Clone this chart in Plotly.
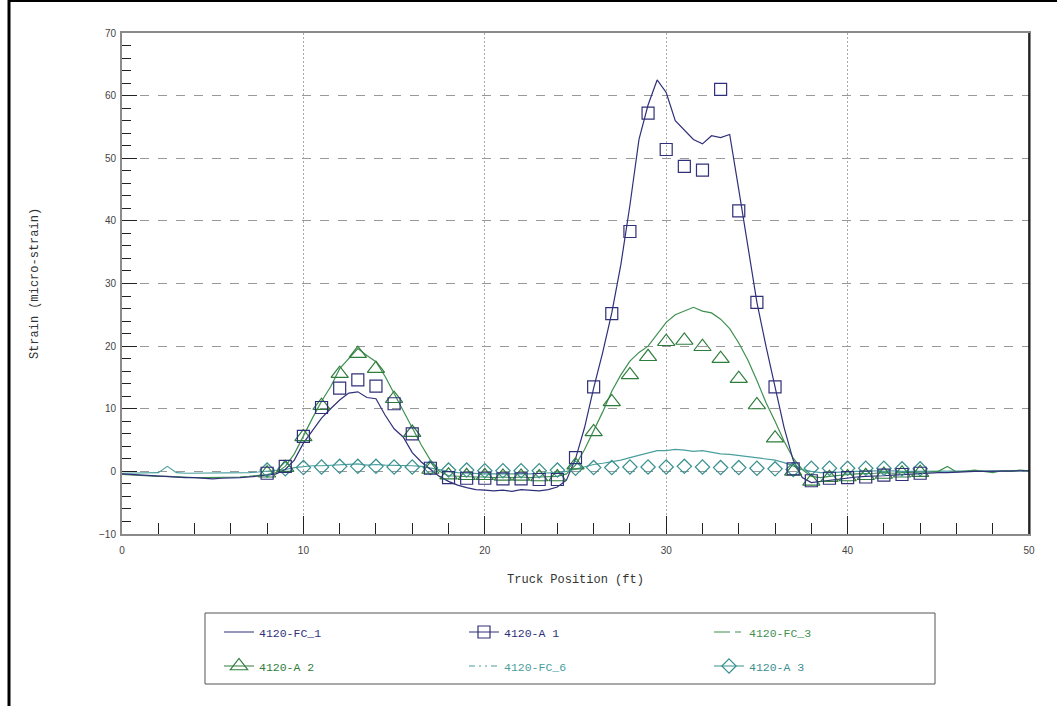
import plotly.graph_objects as go

# ---------------- data ----------------
pos_line = [0.0, 0.5, 1.0, 1.5, 2.0, 2.5, 3.0, 3.5, 4.0, 4.5,
            5.0, 5.5, 6.0, 6.5, 7.0, 7.5, 8.0, 8.5, 9.0, 9.5,
            10.0, 10.5, 11.0, 11.5, 12.0, 12.5, 13.0, 13.5, 14.0, 14.5,
            15.0, 15.5, 16.0, 16.5, 17.0, 17.5, 18.0, 18.5, 19.0, 19.5,
            20.0, 20.5, 21.0, 21.5, 22.0, 22.5, 23.0, 23.5, 24.0, 24.5,
            25.0, 25.5, 26.0, 26.5, 27.0, 27.5, 28.0, 28.5, 29.0, 29.5,
            30.0, 30.5, 31.0, 31.5, 32.0, 32.5, 33.0, 33.5, 34.0, 34.5,
            35.0, 35.5, 36.0, 36.5, 37.0, 37.5, 38.0, 38.5, 39.0, 39.5,
            40.0, 40.5, 41.0, 41.5, 42.0, 42.5, 43.0, 43.5, 44.0, 44.5,
            45.0, 45.5, 46.0, 46.5, 47.0, 47.5, 48.0, 48.5, 49.0, 49.5,
            50.0]

fc_1 = [-0.4, -0.5, -0.6, -0.7, -0.8, -0.8, -0.9, -1.0, -1.0, -1.1,
        -1.2, -1.1, -1.1, -1.0, -0.9, -0.8, -0.6, -0.4, 0.3, 1.8,
        4.5, 6.5, 8.5, 10.0, 11.4, 12.5, 12.7, 11.8, 11.6, 9.0,
        6.8, 5.5, 3.0, 1.5, 0.3, -0.8, -1.6, -2.2, -2.6, -2.9,
        -3.0, -3.1, -3.0, -3.2, -2.9, -3.0, -3.1, -2.9, -2.5, -1.4,
        2.0, 7.0, 13.3, 19.0, 25.3, 33.0, 42.5, 53.0, 58.5, 62.5,
        60.5, 56.0, 54.5, 53.0, 52.3, 53.6, 53.3, 53.8, 45.0, 36.0,
        27.0, 20.0, 13.5, 7.0, 1.8, -1.0, -1.8, -1.6, -1.5, -1.2,
        -1.0, -0.9, -0.8, -0.8, -0.7, -0.6, -0.5, -0.4, -0.4, -0.3,
        -0.2, -0.2, -0.1, -0.1, 0.0, 0.0, 0.0, 0.1, 0.0, 0.1,
        0.1]

fc_3 = [-0.5, -0.6, -0.7, -0.7, -0.8, -0.8, -0.9, -0.9, -1.0, -1.0,
        -1.0, -1.0, -0.9, -0.9, -0.8, -0.7, -0.5, -0.2, 0.8, 2.8,
        5.7, 8.5, 11.2, 13.5, 16.4, 18.0, 19.6, 18.5, 17.5, 15.2,
        12.5, 9.8, 6.9, 4.2, 1.8, 0.0, -0.7, -0.8, -0.9, -0.9,
        -0.9, -1.0, -0.9, -1.0, -0.9, -1.0, -0.9, -0.9, -0.8, -0.4,
        1.0, 3.5, 6.5, 9.5, 12.8, 15.4, 17.6, 19.0, 20.0, 22.0,
        23.8, 25.0, 25.6, 26.2, 25.6, 25.3, 24.3, 22.8, 20.5, 17.8,
        14.5, 11.0, 8.0, 4.8, 2.1, 0.3, -0.8, -1.0, -0.8, -0.6,
        -0.5, -0.4, -0.4, -0.3, -0.2, -0.3, -0.2, -0.2, -0.1, -0.1,
        0.0, 0.8, -0.1, 0.0, 0.2, 0.0, -0.2, 0.1, 0.0, 0.2,
        0.1]

fc_6 = [-0.3, -0.3, -0.2, -0.3, -0.2, 0.8, -0.2, -0.3, -0.3, -0.3,
        -0.3, -0.3, -0.3, -0.2, -0.2, -0.1, 0.0, 0.1, 0.3, 0.6,
        0.8, 0.9, 0.9, 1.0, 1.0, 1.1, 1.2, 1.0, 1.1, 1.0,
        1.0, 1.0, 0.9, 0.8, 0.5, 0.2, 0.0, -0.2, -0.3, -0.3,
        -0.4, -0.4, -0.4, -0.5, -0.4, -0.4, -0.3, -0.3, -0.2, 0.0,
        0.4, 0.8, 1.1, 1.3, 1.5, 1.8, 2.2, 2.6, 3.0, 3.3,
        3.3, 3.5, 3.4, 3.2, 3.3, 3.0, 2.8, 2.7, 2.5, 2.3,
        2.1, 2.0, 1.8, 1.4, 0.8, 0.3, 0.0, -0.2, -0.2, -0.1,
        -0.1, 0.0, 0.0, 0.1, 0.0, 0.1, 0.0, 0.0, 0.1, 0.0,
        0.0, 0.1, 0.0, 0.0, 0.1, 0.0, 0.0, 0.1, 0.0, 0.1,
        0.1]

pos_gauge = [8, 9, 10, 11, 12, 13, 14, 15, 16, 17, 18, 19, 20, 21, 22, 23, 24, 25, 26,
             27, 28, 29, 30, 31, 32, 33, 34, 35, 36, 37, 38, 39, 40, 41, 42, 43, 44]

a_1 = [-0.3, 0.8, 5.6, 10.2, 13.3, 14.6, 13.6, 10.8, 6.0, 0.5, -1.0, -1.1, -1.1, -1.2,
       -1.2, -1.3, -1.3, 2.2, 13.5, 25.2, 38.3, 57.2, 51.4, 48.7, 48.1, 61.0, 41.6, 27.0,
       13.5, 0.4, -1.5, -1.1, -1.0, -0.9, -0.6, -0.5, -0.3]

a_2 = [-0.3, 0.6, 5.5, 10.5, 15.6, 18.8, 16.4, 11.6, 6.2, 0.3, -0.6, -0.7, -0.7, -0.8,
       -0.8, -0.9, -0.9, 1.0, 6.3, 11.1, 15.4, 18.3, 20.7, 20.9, 19.9, 18.0, 14.8, 10.6,
       5.3, 0.0, -1.6, -1.0, -0.9, -0.7, -0.5, -0.3, -0.2]

a_3 = [0.2, 0.4, 0.6, 0.7, 0.8, 0.8, 0.8, 0.7, 0.7, 0.6, 0.2, 0.2, 0.1, 0.1,
       0.1, 0.1, 0.2, 0.5, 0.6, 0.6, 0.7, 0.7, 0.7, 0.8, 0.7, 0.6, 0.6, 0.5,
       0.4, 0.3, 0.5, 0.5, 0.5, 0.5, 0.5, 0.4, 0.4]

x_ticks = [0, 10, 20, 30, 40, 50]
y_ticks = [-10, 0, 10, 20, 30, 40, 50, 60, 70]

# ---------------- styles ----------------
NAVY = "#30307a"
GREEN_L = "#3f9050"
GREEN_M = "#2f7d3c"
TEAL_L = "#4a9e9e"
TEAL_M = "#3a9090"
MONO = "Liberation Mono, DejaVu Sans Mono, monospace"
SANS = "Liberation Sans, Arial, sans-serif"

fig = go.Figure()

# data lines
fig.add_trace(go.Scatter(x=pos_line, y=fc_6, mode="lines", line=dict(color=TEAL_L, width=1.2), showlegend=False))
fig.add_trace(go.Scatter(x=pos_line, y=fc_3, mode="lines", line=dict(color=GREEN_L, width=1.2), showlegend=False))
fig.add_trace(go.Scatter(x=pos_line, y=fc_1, mode="lines", line=dict(color=NAVY, width=1.2), showlegend=False))

# gauge markers
fig.add_trace(go.Scatter(x=pos_gauge, y=a_3, mode="markers",
                         marker=dict(symbol="diamond-open", size=11, color=TEAL_M, line=dict(width=1.2)),
                         showlegend=False))
fig.add_trace(go.Scatter(x=pos_gauge, y=a_2, mode="markers",
                         marker=dict(symbol="triangle-up-open", size=15, color=GREEN_M, line=dict(width=1.2)),
                         showlegend=False))
fig.add_trace(go.Scatter(x=pos_gauge, y=a_1, mode="markers",
                         marker=dict(symbol="square-open", size=12, color=NAVY, line=dict(width=1.2)),
                         showlegend=False))


def lname(txt, col):
    return "<span style='color:%s'>%s</span>" % (col, txt)


# legend entries (row 1 -> legend, row 2 -> legend2)
fig.add_trace(go.Scatter(x=[None], y=[None], mode="lines", name=lname("4120-FC_1", NAVY),
                         line=dict(color=NAVY, width=1.2), legend="legend"))
fig.add_trace(go.Scatter(x=[None], y=[None], mode="lines+markers", name=lname("4120-A 1", NAVY),
                         line=dict(color=NAVY, width=1.2),
                         marker=dict(symbol="square-open", size=12, color=NAVY, line=dict(width=1.2)),
                         legend="legend"))
fig.add_trace(go.Scatter(x=[None], y=[None], mode="lines", name=lname("4120-FC_3", GREEN_L),
                         line=dict(color=GREEN_L, width=1.2, dash="16px,5px,6px,5px"), legend="legend"))
fig.add_trace(go.Scatter(x=[None], y=[None], mode="lines+markers", name=lname("4120-A 2", GREEN_M),
                         line=dict(color=GREEN_M, width=1.2),
                         marker=dict(symbol="triangle-up-open", size=15, color=GREEN_M, line=dict(width=1.2)),
                         legend="legend2"))
fig.add_trace(go.Scatter(x=[None], y=[None], mode="lines", name=lname("4120-FC_6", TEAL_L),
                         line=dict(color=TEAL_L, width=1.2, dash="6px,4px,2px,4px,2px,4px"), legend="legend2"))
fig.add_trace(go.Scatter(x=[None], y=[None], mode="lines+markers", name=lname("4120-A 3", TEAL_M),
                         line=dict(color=TEAL_M, width=1.2),
                         marker=dict(symbol="diamond-open", size=11, color=TEAL_M, line=dict(width=1.2)),
                         legend="legend2"))

W, H = 1057, 706
L, R, T, B = 122, 28, 33, 172
PW, PH = W - L - R, H - T - B


def px_x(p):
    return (p - L) / PW


def px_y(p):
    return (H - B - p) / PH


leg_common = dict(orientation="h", xanchor="left", yanchor="middle", entrywidth=200,
                  font=dict(family=MONO, size=11.5, color="#333"),
                  bgcolor="rgba(0,0,0,0)", borderwidth=0, traceorder="normal")

fig.update_layout(
    width=W, height=H,
    margin=dict(l=L, r=R, t=T, b=B, autoexpand=False),
    paper_bgcolor="white", plot_bgcolor="white",
    legend=dict(x=px_x(219), y=px_y(632), **leg_common),
    legend2=dict(x=px_x(219), y=px_y(666), **leg_common),
    xaxis=dict(
        range=[0, 50], tickvals=x_ticks, ticks="inside", ticklen=18, tickcolor="#222", tickwidth=1,
        minor=dict(dtick=2, tick0=0, ticks="inside", ticklen=11, tickcolor="#222", showgrid=False),
        showgrid=True, gridcolor="#aaaaaa", griddash="2px,2px", gridwidth=1,
        showline=True, linecolor="#8a8a8a", linewidth=2, mirror=True, zeroline=False,
        tickfont=dict(family=SANS, size=10, color="#444"), ticklabelstandoff=6,
        title=dict(text="Truck Position (ft)", font=dict(family=MONO, size=12, color="#333"), standoff=20),
        automargin=False,
    ),
    yaxis=dict(
        range=[-10, 70], tickvals=y_ticks, ticks="inside", ticklen=15, tickcolor="#222", tickwidth=1,
        minor=dict(dtick=2, tick0=0, ticks="inside", ticklen=9, tickcolor="#222", showgrid=False),
        showgrid=True, gridcolor="#999999", griddash="dash", gridwidth=1,
        showline=True, linecolor="#8a8a8a", linewidth=2, mirror=True, zeroline=False,
        tickfont=dict(family=SANS, size=10, color="#444"), ticklabelstandoff=2,
        title=dict(text="Strain (micro-strain)", font=dict(family=MONO, size=12, color="#333"), standoff=58),
        automargin=False,
    ),
    shapes=[
        # right plot edge (black)
        dict(type="line", xref="paper", yref="paper", x0=1, x1=1, y0=0, y1=1,
             line=dict(color="black", width=1.5)),
        # legend box
        dict(type="rect", xref="paper", yref="paper", x0=px_x(205), x1=px_x(935),
             y0=px_y(684), y1=px_y(613), line=dict(color="#555", width=1)),
        # page frame: left and top
        dict(type="line", xref="paper", yref="paper", x0=px_x(9), x1=px_x(9),
             y0=px_y(706), y1=px_y(0), line=dict(color="black", width=3)),
        dict(type="line", xref="paper", yref="paper", x0=px_x(8), x1=px_x(1057),
             y0=px_y(1), y1=px_y(1), line=dict(color="black", width=2)),
    ],
)

fig.write_html("out.html", config={"displayModeBar": False},
               post_script="document.body.style.margin='0';document.body.style.overflow='hidden';")
